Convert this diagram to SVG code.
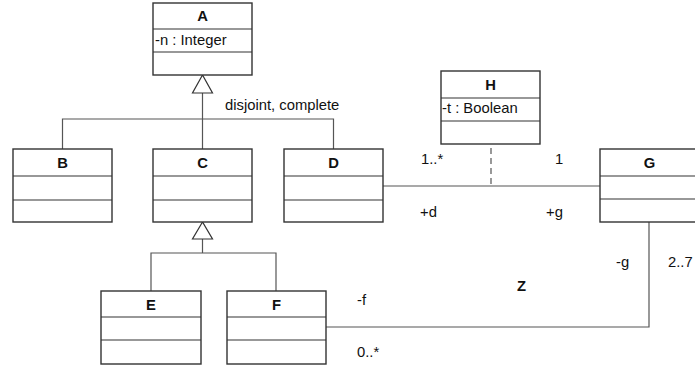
<svg xmlns="http://www.w3.org/2000/svg" width="695" height="371" viewBox="0 0 695 371">
<style>
.box{fill:#fff;stroke:#333;stroke-width:1.4}
.sep{stroke:#333;stroke-width:1.2;fill:none}
.con{stroke:#555;stroke-width:1.2;fill:none}
.tri{fill:#fff;stroke:#333;stroke-width:1.2}
text{font-family:"Liberation Sans",Arial,sans-serif;font-size:14.8px;fill:#111}
.title{font-weight:bold;text-anchor:middle}
</style>
<rect width="695" height="371" fill="#fff"/>
<g id="connectors">
<path class="con" d="M202.5,93 V149 M62.5,149 V119 H333.5 V149"/>
<polygon class="tri" points="202.5,75 192.5,93 212.5,93"/>
<path class="con" d="M202.5,239 V253 M151,291 V253 H276 V291"/>
<polygon class="tri" points="202.5,222 192.5,239 212.5,239"/>
<path class="con" d="M383,186 H600"/>
<path class="con" d="M491,148 V186" stroke-dasharray="6,4"/>
<path class="con" d="M326,327 H649 V222"/>
</g>
<g id="A">
<rect class="box" x="153" y="3" width="99" height="72"/>
<path class="sep" d="M153,29 H252 M153,52 H252"/>
<text class="title" x="202.5" y="21">A</text>
<text x="155" y="45">-n : Integer</text>
</g>
<g id="B">
<rect class="box" x="13" y="149" width="99" height="73"/>
<path class="sep" d="M13,176 H112 M13,200 H112"/>
<text class="title" x="62.5" y="168">B</text>
</g>
<g id="C">
<rect class="box" x="153" y="149" width="99" height="73"/>
<path class="sep" d="M153,176 H252 M153,200 H252"/>
<text class="title" x="202.5" y="168">C</text>
</g>
<g id="D">
<rect class="box" x="284" y="149" width="99" height="73"/>
<path class="sep" d="M284,176 H383 M284,200 H383"/>
<text class="title" x="333.5" y="168">D</text>
</g>
<g id="E">
<rect class="box" x="101" y="291" width="100" height="73"/>
<path class="sep" d="M101,317 H201 M101,340 H201"/>
<text class="title" x="151" y="310">E</text>
</g>
<g id="F">
<rect class="box" x="227" y="291" width="99" height="73"/>
<path class="sep" d="M227,317 H326 M227,340 H326"/>
<text class="title" x="276.5" y="310">F</text>
</g>
<g id="H">
<rect class="box" x="441" y="71" width="99" height="73"/>
<path class="sep" d="M441,98 H540 M441,121 H540"/>
<text class="title" x="490.5" y="90">H</text>
<text x="442" y="113">-t : Boolean</text>
</g>
<g id="G">
<rect class="box" x="600" y="149" width="99" height="73"/>
<path class="sep" d="M600,176 H699 M600,199 H699"/>
<text class="title" x="649.5" y="168">G</text>
</g>
<g id="labels">
<text x="225" y="110">disjoint, complete</text>
<text x="421" y="164">1..*</text>
<text x="555" y="164">1</text>
<text x="420" y="217">+d</text>
<text x="546" y="217">+g</text>
<text x="616" y="267">-g</text>
<text x="668" y="267">2..7</text>
<text x="517" y="291" font-weight="bold">Z</text>
<text x="357" y="305">-f</text>
<text x="357" y="357">0..*</text>
</g>
</svg>
